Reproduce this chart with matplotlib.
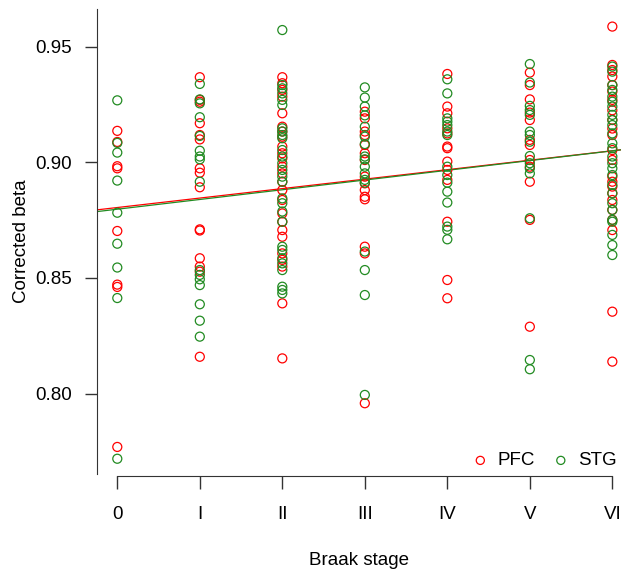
import numpy as np
import matplotlib
matplotlib.use("Agg")
import matplotlib.pyplot as plt

plt.rcParams['font.family'] = ['Liberation Sans', 'DejaVu Sans']

stages = ['0', 'I', 'II', 'III', 'IV', 'V', 'VI']

# corrected beta per Braak stage
pfc = [
    [0.9136, 0.9088, 0.8983, 0.8974, 0.8703, 0.8471, 0.8461, 0.7769],
    [0.9368, 0.9270, 0.9262, 0.9169, 0.9118, 0.9099, 0.8974, 0.8955, 0.8892,
     0.8710, 0.8705, 0.8585, 0.8549, 0.8527, 0.8159],
    [0.9368, 0.9342, 0.9313, 0.9284, 0.9212, 0.9154, 0.9133, 0.9111, 0.9068,
     0.9039, 0.9017, 0.8981, 0.8952, 0.8916, 0.8880, 0.8837, 0.8779, 0.8743,
     0.8707, 0.8678, 0.8606, 0.8578, 0.8549, 0.8390, 0.8152],
    [0.9219, 0.9190, 0.9133, 0.9118, 0.9075, 0.9039, 0.9010, 0.8938, 0.8909,
     0.8880, 0.8851, 0.8840, 0.8635, 0.8606, 0.7958],
    [0.9382, 0.9241, 0.9212, 0.9147, 0.9125, 0.9068, 0.9061, 0.9003, 0.8967,
     0.8924, 0.8743, 0.8491, 0.8412],
    [0.9388, 0.9334, 0.9272, 0.9215, 0.9183, 0.9097, 0.9075, 0.9010, 0.8981,
     0.8916, 0.8751, 0.8289],
    [0.9587, 0.9421, 0.9399, 0.9371, 0.9334, 0.9306, 0.9270, 0.9225, 0.9183,
     0.9146, 0.9118, 0.9053, 0.9010, 0.8938, 0.8916, 0.8895, 0.8866, 0.8837,
     0.8794, 0.8751, 0.8707, 0.8354, 0.8138],
]
stg = [
    [0.9268, 0.9084, 0.9042, 0.8921, 0.8782, 0.8648, 0.8545, 0.8413, 0.7718],
    [0.9339, 0.9272, 0.9255, 0.9195, 0.9114, 0.9050, 0.9025, 0.9013, 0.8916,
     0.8534, 0.8513, 0.8494, 0.8469, 0.8386, 0.8315, 0.8246],
    [0.9572, 0.9334, 0.9320, 0.9298, 0.9270, 0.9248, 0.9147, 0.9133, 0.9118,
     0.9104, 0.9053, 0.9025, 0.8996, 0.8967, 0.8938, 0.8916, 0.8844, 0.8823,
     0.8787, 0.8743, 0.8635, 0.8621, 0.8585, 0.8563, 0.8534, 0.8462, 0.8448,
     0.8433],
    [0.9324, 0.9280, 0.9241, 0.9203, 0.9154, 0.9111, 0.9079, 0.9025, 0.9013,
     0.8981, 0.8952, 0.8924, 0.8912, 0.8614, 0.8534, 0.8426, 0.7994],
    [0.9359, 0.9298, 0.9190, 0.9176, 0.9161, 0.9133, 0.9118, 0.8981, 0.8945,
     0.8912, 0.8873, 0.8826, 0.8722, 0.8708, 0.8667],
    [0.9425, 0.9345, 0.9244, 0.9226, 0.9205, 0.9133, 0.9118, 0.9089, 0.9027,
     0.8996, 0.8974, 0.8952, 0.8758, 0.8145, 0.8105],
    [0.9414, 0.9392, 0.9334, 0.9313, 0.9284, 0.9262, 0.9241, 0.9205, 0.9183,
     0.9161, 0.9125, 0.9082, 0.9061, 0.9025, 0.8996, 0.8974, 0.8945, 0.8902,
     0.8866, 0.8823, 0.8794, 0.8751, 0.8743, 0.8686, 0.8642, 0.8599],
]

red = '#FF0000'
green = '#228B22'
fs = 13.5

fig = plt.figure(figsize=(6.21, 5.75), dpi=100)
ax = fig.add_axes([97 / 621, 1 - 474 / 575, 524 / 621, 465 / 575])

xlim = (-0.246, 6.105)

for vals, col, name in [(pfc, red, 'PFC'), (stg, green, 'STG')]:
    xs = np.concatenate([[i] * len(v) for i, v in enumerate(vals)])
    ys = np.concatenate(vals)
    ax.scatter(xs, ys, s=42, facecolors='none', edgecolors=col,
               linewidths=0.9, label=name, zorder=3)
    slope, icpt = np.polyfit(xs, ys, 1)
    xx = np.array(xlim)
    ax.plot(xx, icpt + slope * xx, color=col, lw=0.9, zorder=2)

ax.set_xlim(*xlim)
ax.set_ylim(0.7652, 0.9663)

ax.set_xticks(range(len(stages)))
ax.set_xticklabels(stages)
ax.set_yticks([0.80, 0.85, 0.90, 0.95])
ax.set_yticklabels(['0.80', '0.85', '0.90', '0.95'])

for s in ['top', 'right']:
    ax.spines[s].set_visible(False)
ax.spines['left'].set_color('#333333')
ax.spines['bottom'].set_color('#333333')
ax.spines['bottom'].set_position(('outward', 1.5))
ax.spines['bottom'].set_bounds(0, 6)

ax.tick_params(axis='both', colors='#333333', labelcolor='black',
               labelsize=fs, width=1)
ax.tick_params(axis='x', length=9.5, pad=12)
ax.tick_params(axis='y', length=9, pad=9)

ax.set_xlabel('Braak stage', fontsize=fs, labelpad=21)
ax.set_ylabel('Corrected beta', fontsize=fs, labelpad=4)

leg = ax.legend(loc='lower right', ncol=2, frameon=False, fontsize=fs,
                handlelength=0.8, handletextpad=0.5, columnspacing=1.0,
                borderaxespad=0.15, borderpad=0.1, markerscale=0.9)

fig.savefig('out.png', dpi=100)
